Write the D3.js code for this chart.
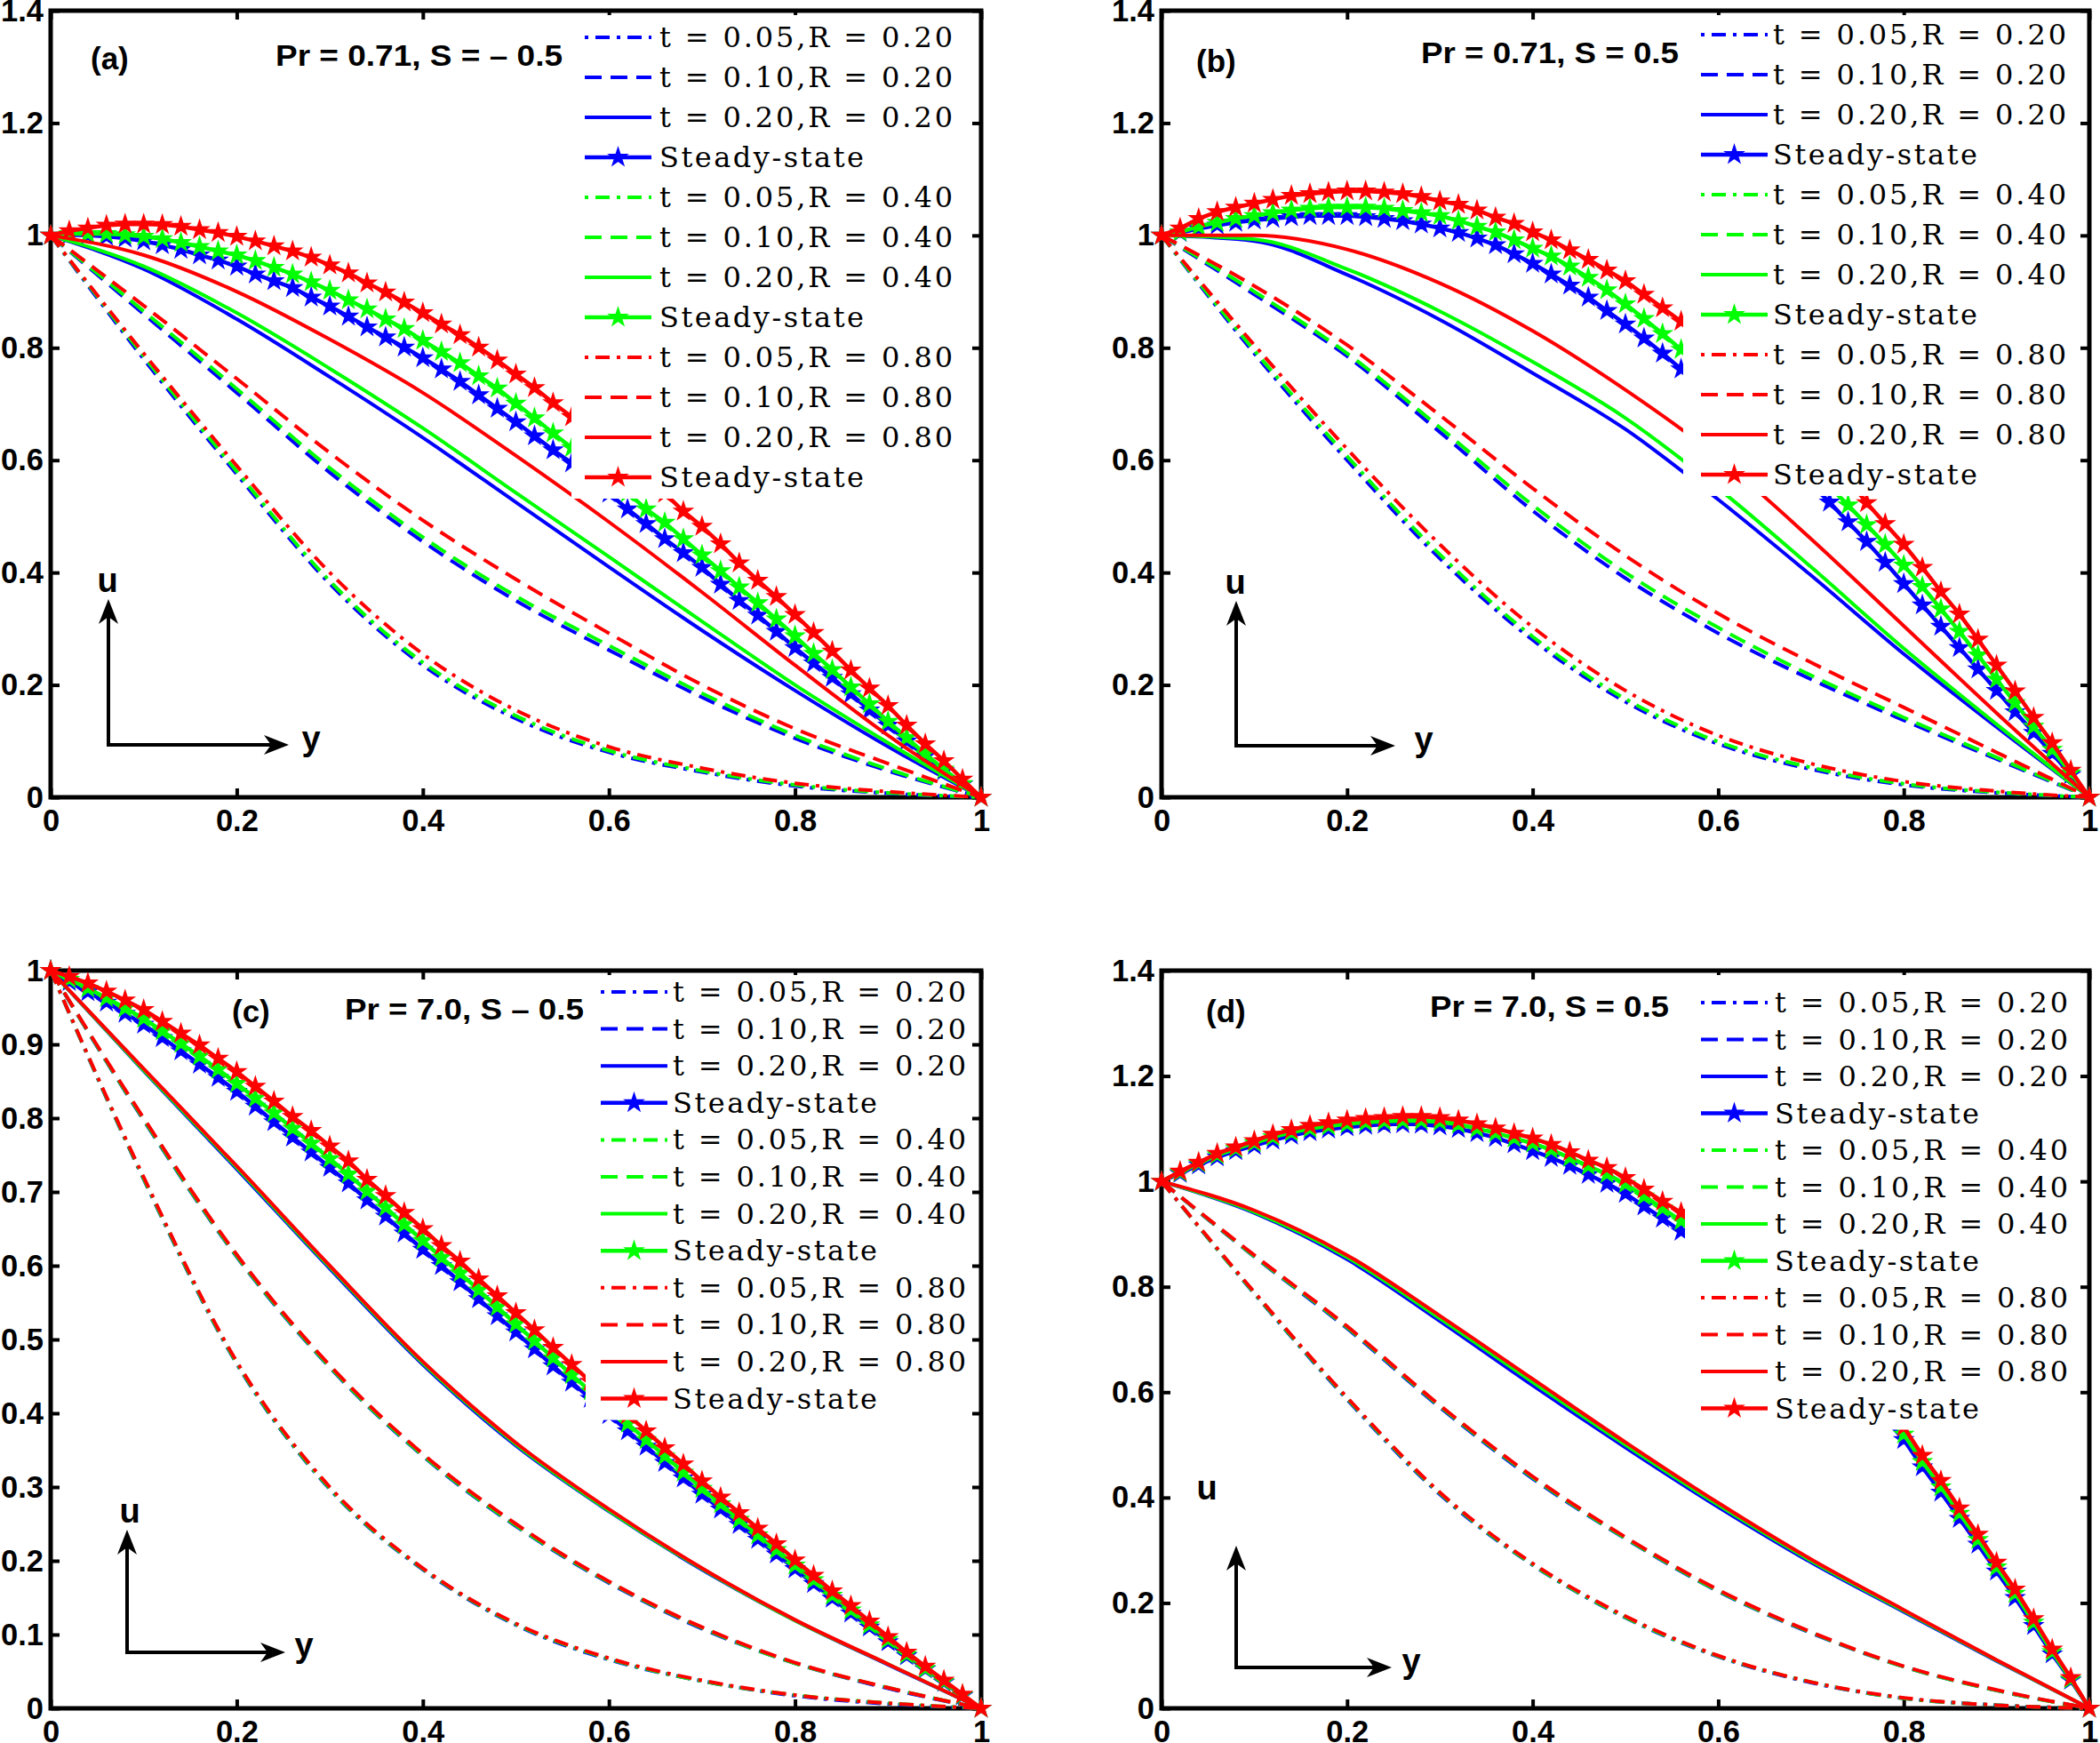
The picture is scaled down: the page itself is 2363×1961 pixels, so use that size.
<!DOCTYPE html>
<html><head><meta charset="utf-8">
<script src="https://cdn.jsdelivr.net/npm/d3@7/dist/d3.min.js"></script>
<style>html,body{margin:0;padding:0;background:#fff;} svg{display:block;}</style>
</head><body>
<svg id="chart" width="2363" height="1961" xmlns="http://www.w3.org/2000/svg"></svg>
<script>
// ---------------- data ----------------
const xGrid = [0, 0.1, 0.2, 0.3, 0.4, 0.5, 0.6, 0.7, 0.8, 0.9, 1];
const xSteady = [0, 0.02, 0.04, 0.06, 0.08, 0.1, 0.12, 0.14, 0.16, 0.18, 0.2, 0.22, 0.24, 0.26, 0.28, 0.3, 0.32, 0.34, 0.36, 0.38, 0.4, 0.42, 0.44, 0.46, 0.48, 0.5, 0.52, 0.54, 0.56, 0.58, 0.6, 0.62, 0.64, 0.66, 0.68, 0.7, 0.72, 0.74, 0.76, 0.78, 0.8, 0.82, 0.84, 0.86, 0.88, 0.9, 0.92, 0.94, 0.96, 0.98, 1];
const xTicks = [0, 0.2, 0.4, 0.6, 0.8, 1];
const yTicks14 = [0, 0.2, 0.4, 0.6, 0.8, 1, 1.2, 1.4];
const yTicks10 = [0, 0.1, 0.2, 0.3, 0.4, 0.5, 0.6, 0.7, 0.8, 0.9, 1];
const legendLabels = ["t = 0.05,R = 0.20", "t = 0.10,R = 0.20", "t = 0.20,R = 0.20", "Steady-state",
  "t = 0.05,R = 0.40", "t = 0.10,R = 0.40", "t = 0.20,R = 0.40", "Steady-state",
  "t = 0.05,R = 0.80", "t = 0.10,R = 0.80", "t = 0.20,R = 0.80", "Steady-state"];
const seriesColors = ["#0000ff", "#0000ff", "#0000ff", "#0000ff", "#00ff00", "#00ff00", "#00ff00", "#00ff00", "#ff0000", "#ff0000", "#ff0000", "#ff0000"];
const seriesKinds = ["dashdot", "dashed", "solid", "steady", "dashdot", "dashed", "solid", "steady", "dashdot", "dashed", "solid", "steady"];
const panelLabels = ["(a)", "(b)", "(c)", "(d)"];
const panelParams = ["Pr = 0.71, S = \u2013 0.5", "Pr = 0.71, S = 0.5", "Pr = 7.0, S \u2013 0.5", "Pr = 7.0, S = 0.5"];

// Panel (a): Pr = 0.71, S = -0.5
const a_t005_R020 = [1, 0.78, 0.575, 0.38, 0.235, 0.14, 0.08, 0.045, 0.02, 0.007, 0];
const a_t010_R020 = [1, 0.86, 0.72, 0.578, 0.455, 0.35, 0.262, 0.178, 0.105, 0.047, 0];
const a_t020_R020 = [1, 0.94, 0.851, 0.748, 0.64, 0.525, 0.41, 0.297, 0.19, 0.09, 0];
const a_ss_R020 = [1, 1.001, 1.0, 0.998, 0.995, 0.99, 0.983, 0.975, 0.965, 0.956, 0.945, 0.931, 0.919, 0.907, 0.89, 0.874, 0.856, 0.837, 0.819, 0.801, 0.782, 0.762, 0.74, 0.716, 0.692, 0.668, 0.643, 0.618, 0.595, 0.568, 0.541, 0.513, 0.487, 0.46, 0.435, 0.409, 0.379, 0.35, 0.324, 0.295, 0.266, 0.239, 0.213, 0.184, 0.155, 0.128, 0.1, 0.073, 0.047, 0.023, 0];
const a_t005_R040 = [1, 0.785, 0.58, 0.385, 0.24, 0.145, 0.083, 0.047, 0.022, 0.008, 0];
const a_t010_R040 = [1, 0.865, 0.727, 0.586, 0.463, 0.358, 0.27, 0.185, 0.11, 0.05, 0];
const a_t020_R040 = [1, 0.945, 0.862, 0.763, 0.657, 0.542, 0.428, 0.313, 0.2, 0.097, 0];
const a_ss_R040 = [1, 1.003, 1.003, 1.003, 1.001, 0.998, 0.994, 0.987, 0.98, 0.972, 0.965, 0.955, 0.943, 0.931, 0.917, 0.902, 0.885, 0.869, 0.851, 0.834, 0.813, 0.793, 0.773, 0.75, 0.728, 0.701, 0.675, 0.648, 0.622, 0.597, 0.57, 0.542, 0.513, 0.489, 0.46, 0.431, 0.403, 0.374, 0.346, 0.317, 0.287, 0.256, 0.227, 0.196, 0.166, 0.135, 0.106, 0.077, 0.05, 0.024, 0];
const a_t005_R080 = [1, 0.79, 0.59, 0.4, 0.255, 0.155, 0.09, 0.052, 0.025, 0.01, 0];
const a_t010_R080 = [1, 0.875, 0.745, 0.613, 0.493, 0.388, 0.292, 0.2, 0.122, 0.06, 0];
const a_t020_R080 = [1, 0.965, 0.9, 0.815, 0.72, 0.608, 0.49, 0.365, 0.235, 0.11, 0];
const a_ss_R080 = [1, 1.008, 1.013, 1.018, 1.02, 1.02, 1.019, 1.016, 1.01, 1.005, 0.998, 0.99, 0.981, 0.972, 0.961, 0.947, 0.933, 0.915, 0.899, 0.881, 0.862, 0.842, 0.823, 0.801, 0.778, 0.753, 0.729, 0.702, 0.677, 0.652, 0.626, 0.599, 0.571, 0.541, 0.509, 0.482, 0.451, 0.417, 0.386, 0.357, 0.325, 0.293, 0.26, 0.226, 0.194, 0.163, 0.128, 0.095, 0.065, 0.032, 0];

// Panel (b): Pr = 0.71, S = 0.5
const b_t005_R020 = [1, 0.79, 0.6, 0.425, 0.28, 0.17, 0.095, 0.05, 0.022, 0.008, 0];
const b_t010_R020 = [1, 0.895, 0.785, 0.65, 0.51, 0.39, 0.292, 0.21, 0.137, 0.068, 0];
const b_t020_R020 = [1, 0.99, 0.93, 0.85, 0.755, 0.655, 0.53, 0.395, 0.255, 0.125, 0];
const b_ss_R020 = [1, 1.005, 1.012, 1.018, 1.023, 1.027, 1.03, 1.033, 1.035, 1.035, 1.035, 1.033, 1.03, 1.026, 1.02, 1.013, 1.005, 0.995, 0.983, 0.967, 0.95, 0.931, 0.911, 0.89, 0.866, 0.842, 0.817, 0.79, 0.762, 0.735, 0.708, 0.68, 0.652, 0.622, 0.59, 0.558, 0.525, 0.49, 0.455, 0.418, 0.38, 0.342, 0.304, 0.266, 0.228, 0.19, 0.152, 0.115, 0.078, 0.04, 0];
const b_t005_R040 = [1, 0.795, 0.607, 0.432, 0.286, 0.175, 0.099, 0.053, 0.024, 0.009, 0];
const b_t010_R040 = [1, 0.9, 0.79, 0.658, 0.52, 0.4, 0.302, 0.217, 0.142, 0.071, 0];
const b_t020_R040 = [1, 0.993, 0.94, 0.865, 0.775, 0.675, 0.55, 0.41, 0.265, 0.13, 0];
const b_ss_R040 = [1, 1.006, 1.016, 1.023, 1.03, 1.035, 1.04, 1.045, 1.048, 1.05, 1.05, 1.05, 1.048, 1.044, 1.04, 1.035, 1.026, 1.016, 1.006, 0.992, 0.977, 0.963, 0.945, 0.925, 0.903, 0.878, 0.852, 0.825, 0.797, 0.768, 0.74, 0.711, 0.681, 0.65, 0.618, 0.586, 0.553, 0.52, 0.485, 0.45, 0.413, 0.375, 0.335, 0.295, 0.253, 0.21, 0.168, 0.126, 0.085, 0.043, 0];
const b_t005_R080 = [1, 0.805, 0.62, 0.45, 0.303, 0.19, 0.11, 0.06, 0.028, 0.011, 0];
const b_t010_R080 = [1, 0.91, 0.805, 0.68, 0.55, 0.43, 0.327, 0.24, 0.16, 0.08, 0];
const b_t020_R080 = [1, 1.0, 0.975, 0.915, 0.83, 0.725, 0.605, 0.46, 0.305, 0.15, 0];
const b_ss_R080 = [1, 1.013, 1.03, 1.042, 1.05, 1.057, 1.064, 1.071, 1.074, 1.077, 1.079, 1.079, 1.077, 1.074, 1.069, 1.061, 1.055, 1.045, 1.032, 1.021, 1.006, 0.992, 0.974, 0.957, 0.938, 0.919, 0.895, 0.871, 0.847, 0.822, 0.796, 0.768, 0.739, 0.709, 0.677, 0.643, 0.606, 0.566, 0.524, 0.487, 0.45, 0.409, 0.366, 0.326, 0.281, 0.235, 0.189, 0.142, 0.097, 0.048, 0];

// Panel (c): Pr = 7.0, S = -0.5
const c_t005_R020 = [1, 0.717, 0.467, 0.297, 0.188, 0.113, 0.066, 0.037, 0.017, 0.006, 0];
const c_t010_R020 = [1, 0.797, 0.612, 0.462, 0.342, 0.247, 0.17, 0.108, 0.061, 0.027, 0];
const c_t020_R020 = [1, 0.864, 0.731, 0.596, 0.466, 0.356, 0.267, 0.188, 0.119, 0.059, 0];
const c_ss_R020 = [1, 0.985, 0.971, 0.957, 0.942, 0.927, 0.909, 0.891, 0.873, 0.855, 0.836, 0.816, 0.795, 0.774, 0.754, 0.733, 0.712, 0.689, 0.667, 0.644, 0.622, 0.6, 0.578, 0.555, 0.532, 0.51, 0.487, 0.464, 0.442, 0.42, 0.398, 0.376, 0.355, 0.333, 0.312, 0.29, 0.27, 0.249, 0.229, 0.209, 0.189, 0.169, 0.149, 0.129, 0.11, 0.09, 0.071, 0.053, 0.035, 0.017, 0];
const c_t005_R040 = [1, 0.718, 0.468, 0.298, 0.189, 0.114, 0.067, 0.037, 0.018, 0.007, 0];
const c_t010_R040 = [1, 0.798, 0.613, 0.463, 0.343, 0.248, 0.171, 0.109, 0.061, 0.028, 0];
const c_t020_R040 = [1, 0.865, 0.733, 0.598, 0.468, 0.358, 0.268, 0.189, 0.119, 0.06, 0];
const c_ss_R040 = [1, 0.988, 0.976, 0.963, 0.949, 0.935, 0.918, 0.901, 0.884, 0.866, 0.847, 0.827, 0.807, 0.786, 0.766, 0.745, 0.724, 0.701, 0.679, 0.656, 0.634, 0.611, 0.59, 0.567, 0.544, 0.521, 0.498, 0.475, 0.452, 0.43, 0.408, 0.386, 0.364, 0.342, 0.32, 0.298, 0.277, 0.256, 0.235, 0.215, 0.194, 0.174, 0.153, 0.133, 0.113, 0.093, 0.073, 0.054, 0.036, 0.018, 0];
const c_t005_R080 = [1, 0.72, 0.47, 0.3, 0.19, 0.115, 0.068, 0.038, 0.018, 0.007, 0];
const c_t010_R080 = [1, 0.8, 0.615, 0.465, 0.345, 0.25, 0.172, 0.11, 0.062, 0.028, 0];
const c_t020_R080 = [1, 0.867, 0.735, 0.6, 0.47, 0.36, 0.27, 0.19, 0.12, 0.06, 0];
const c_ss_R080 = [1, 0.992, 0.983, 0.972, 0.96, 0.947, 0.931, 0.915, 0.899, 0.881, 0.863, 0.843, 0.823, 0.802, 0.783, 0.762, 0.742, 0.717, 0.695, 0.672, 0.65, 0.627, 0.606, 0.582, 0.559, 0.536, 0.513, 0.489, 0.466, 0.443, 0.421, 0.398, 0.376, 0.353, 0.331, 0.308, 0.286, 0.265, 0.244, 0.223, 0.201, 0.18, 0.159, 0.139, 0.118, 0.097, 0.076, 0.057, 0.038, 0.019, 0];

// Panel (d): Pr = 7.0, S = 0.5
const d_t005_R020 = [1, 0.787, 0.586, 0.406, 0.272, 0.172, 0.098, 0.049, 0.019, 0.006, 0];
const d_t010_R020 = [1, 0.857, 0.721, 0.571, 0.436, 0.322, 0.222, 0.143, 0.079, 0.034, 0];
const d_t020_R020 = [1, 0.94, 0.852, 0.735, 0.613, 0.495, 0.382, 0.277, 0.183, 0.09, 0];
const d_ss_R020 = [1, 1.015, 1.031, 1.046, 1.058, 1.068, 1.078, 1.087, 1.094, 1.099, 1.103, 1.106, 1.108, 1.109, 1.108, 1.105, 1.1, 1.092, 1.083, 1.071, 1.058, 1.045, 1.03, 1.013, 0.996, 0.977, 0.953, 0.93, 0.905, 0.883, 0.859, 0.833, 0.806, 0.776, 0.743, 0.708, 0.67, 0.63, 0.59, 0.55, 0.51, 0.458, 0.41, 0.36, 0.311, 0.26, 0.21, 0.157, 0.103, 0.053, 0];
const d_t005_R040 = [1, 0.788, 0.588, 0.408, 0.273, 0.173, 0.099, 0.05, 0.019, 0.006, 0];
const d_t010_R040 = [1, 0.858, 0.723, 0.573, 0.438, 0.323, 0.223, 0.144, 0.079, 0.034, 0];
const d_t020_R040 = [1, 0.942, 0.856, 0.74, 0.619, 0.5, 0.386, 0.28, 0.185, 0.091, 0];
const d_ss_R040 = [1, 1.017, 1.034, 1.05, 1.062, 1.073, 1.084, 1.093, 1.1, 1.105, 1.109, 1.112, 1.114, 1.115, 1.115, 1.113, 1.108, 1.1, 1.092, 1.082, 1.072, 1.06, 1.045, 1.029, 1.014, 0.995, 0.972, 0.949, 0.925, 0.903, 0.879, 0.853, 0.825, 0.794, 0.76, 0.724, 0.685, 0.644, 0.602, 0.56, 0.52, 0.468, 0.42, 0.37, 0.32, 0.268, 0.218, 0.163, 0.107, 0.055, 0];
const d_t005_R080 = [1, 0.79, 0.59, 0.41, 0.275, 0.175, 0.1, 0.05, 0.02, 0.006, 0];
const d_t010_R080 = [1, 0.86, 0.725, 0.575, 0.44, 0.325, 0.225, 0.145, 0.08, 0.035, 0];
const d_t020_R080 = [1, 0.945, 0.86, 0.745, 0.625, 0.505, 0.39, 0.283, 0.187, 0.092, 0];
const d_ss_R080 = [1, 1.019, 1.036, 1.053, 1.065, 1.077, 1.089, 1.098, 1.106, 1.111, 1.116, 1.119, 1.121, 1.123, 1.123, 1.121, 1.116, 1.109, 1.101, 1.091, 1.082, 1.07, 1.056, 1.04, 1.026, 1.007, 0.985, 0.962, 0.941, 0.92, 0.897, 0.872, 0.845, 0.815, 0.782, 0.747, 0.708, 0.666, 0.622, 0.578, 0.534, 0.48, 0.432, 0.38, 0.33, 0.277, 0.226, 0.17, 0.112, 0.058, 0];

// ---------------- layout (positions only) ----------------
const layouts = [
  { series: [a_t005_R020, a_t010_R020, a_t020_R020, a_ss_R020, a_t005_R040, a_t010_R040, a_t020_R040, a_ss_R040, a_t005_R080, a_t010_R080, a_t020_R080, a_ss_R080],
    l: 57, r: 1104, t: 12, b: 897, yMax: 1.4, yTicks: yTicks14,
    legLine: 658, legText: 742, legY: 42, legDy: 45, boxL: 643, boxR: 1086,
    labX: 102, labY: 78, parX: 310, parW: 323, parY: 74,
    arX: 122, arY: 838, arTop: 674, arRight: 325, uX: 121, uY: 666, yX: 350, yY: 844 },
  { series: [b_t005_R020, b_t010_R020, b_t020_R020, b_ss_R020, b_t005_R040, b_t010_R040, b_t020_R040, b_ss_R040, b_t005_R080, b_t010_R080, b_t020_R080, b_ss_R080],
    l: 1307, r: 2351, t: 12, b: 897, yMax: 1.4, yTicks: yTicks14,
    legLine: 1914, legText: 1995, legY: 39, legDy: 45, boxL: 1894, boxR: 2337,
    labX: 1346, labY: 81, parX: 1599, parW: 290, parY: 71,
    arX: 1391, arY: 839, arTop: 676, arRight: 1570, uX: 1390, uY: 668, yX: 1602, yY: 845 },
  { series: [c_t005_R020, c_t010_R020, c_t020_R020, c_ss_R020, c_t005_R040, c_t010_R040, c_t020_R040, c_ss_R040, c_t005_R080, c_t010_R080, c_t020_R080, c_ss_R080],
    l: 57, r: 1104, t: 1092, b: 1922, yMax: 1.0, yTicks: yTicks10,
    legLine: 676, legText: 757, legY: 1116, legDy: 41.6, boxL: 659, boxR: 1092,
    labX: 261, labY: 1150, parX: 388, parW: 269, parY: 1147,
    arX: 143, arY: 1859, arTop: 1721, arRight: 321, uX: 146, uY: 1713, yX: 342, yY: 1864 },
  { series: [d_t005_R020, d_t010_R020, d_t020_R020, d_ss_R020, d_t005_R040, d_t010_R040, d_t020_R040, d_ss_R040, d_t005_R080, d_t010_R080, d_t020_R080, d_ss_R080],
    l: 1307, r: 2351, t: 1092, b: 1922, yMax: 1.4, yTicks: yTicks14,
    legLine: 1914, legText: 1997, legY: 1128, legDy: 41.5, boxL: 1896, boxR: 2337,
    labX: 1357, labY: 1150, parX: 1609, parW: 269, parY: 1144,
    arX: 1391, arY: 1876, arTop: 1739, arRight: 1566, uX: 1358, uY: 1687, yX: 1588, yY: 1882 }
];

// ---------------- drawing ----------------
const SANS = '"Liberation Sans", Arial, Helvetica, sans-serif';
const SERIF = '"DejaVu Serif", "Liberation Serif", serif';
const svg = d3.select('#chart');
svg.append('rect').attr('width', 2363).attr('height', 1961).attr('fill', '#fff');

function dashOf(kind) {
  if (kind === 'dashed') return '19,10';
  if (kind === 'dashdot') return '16,8,4,8';
  return null;
}
const starPath = d3.symbol().type(d3.symbolStar).size(125)();

function arrowHead(g, tipX, tipY, dx, dy) {
  const L = 28, W = 11, N = 8;
  const px = -dy, py = dx;
  const bx = tipX - dx * L, by = tipY - dy * L;
  const nx = tipX - dx * (L - N), ny = tipY - dy * (L - N);
  g.append('path')
    .attr('d', `M${tipX},${tipY}L${bx + px * W},${by + py * W}L${nx},${ny}L${bx - px * W},${by - py * W}Z`)
    .attr('fill', '#000');
}

layouts.forEach((P, pi) => {
  const g = svg.append('g');
  const x = d3.scaleLinear().domain([0, 1]).range([P.l, P.r]);
  const y = d3.scaleLinear().domain([0, P.yMax]).range([P.b, P.t]);
  const fmt = v => String(v);

  const axes = [
    [d3.axisBottom(x).tickValues(xTicks).tickFormat(fmt).tickPadding(14), `translate(0,${P.b})`],
    [d3.axisTop(x).tickValues(xTicks).tickFormat(() => ''), `translate(0,${P.t})`],
    [d3.axisLeft(y).tickValues(P.yTicks).tickFormat(fmt).tickPadding(8), `translate(${P.l},0)`],
    [d3.axisRight(y).tickValues(P.yTicks).tickFormat(() => ''), `translate(${P.r},0)`]
  ];
  axes.forEach(([ax, tr]) => {
    const a = g.append('g').attr('transform', tr).call(ax.tickSize(-10).tickSizeOuter(0));
    a.select('.domain').remove();
    a.selectAll('.tick line').attr('stroke', '#000').attr('stroke-width', 4);
    a.selectAll('.tick text').attr('fill', '#000').attr('font-family', SANS)
      .attr('font-weight', 'bold').attr('font-size', 34.5);
  });
  g.append('rect').attr('x', P.l).attr('y', P.t).attr('width', P.r - P.l).attr('height', P.b - P.t)
    .attr('fill', 'none').attr('stroke', '#000').attr('stroke-width', 5);

  // curves
  P.series.forEach((vals, i) => {
    const kind = seriesKinds[i], col = seriesColors[i];
    const xs = kind === 'steady' ? xSteady : xGrid;
    const pts = vals.map((v, j) => [xs[j], v]);
    const ln = d3.line().x(d => x(d[0])).y(d => y(d[1]))
      .curve(kind === 'steady' ? d3.curveLinear : d3.curveMonotoneX);
    g.append('path').attr('d', ln(pts)).attr('fill', 'none').attr('stroke', col)
      .attr('stroke-width', kind === 'steady' ? 4.5 : 4)
      .attr('stroke-dasharray', dashOf(kind)).attr('stroke-linejoin', 'round');
    if (kind === 'steady') {
      g.append('g').selectAll('path').data(pts).join('path')
        .attr('d', starPath)
        .attr('transform', d => `translate(${x(d[0])},${y(d[1])})`)
        .attr('fill', col).attr('stroke', col).attr('stroke-width', 1.5);
    }
  });

  // legend box
  const boxTop = P.t + 5;
  const boxBottom = P.legY + 11 * P.legDy + 24;
  g.append('rect').attr('x', P.boxL).attr('y', boxTop).attr('width', P.boxR - P.boxL)
    .attr('height', boxBottom - boxTop).attr('fill', '#fff');

  legendLabels.forEach((lab, i) => {
    const cy = P.legY + i * P.legDy;
    const kind = seriesKinds[i], col = seriesColors[i];
    g.append('line').attr('x1', P.legLine).attr('x2', P.legLine + 75).attr('y1', cy).attr('y2', cy)
      .attr('stroke', col).attr('stroke-width', kind === 'steady' ? 4.5 : 4)
      .attr('stroke-dasharray', dashOf(kind))
      .attr('stroke-dashoffset', kind === 'dashdot' ? 24 : 0);
    if (kind === 'steady') {
      g.append('path').attr('d', starPath).attr('transform', `translate(${P.legLine + 37.5},${cy})`)
        .attr('fill', col).attr('stroke', col).attr('stroke-width', 1.5);
    }
    g.append('text').attr('x', P.legText).attr('y', cy + 11).text(lab)
      .attr('font-family', SERIF).attr('font-size', 32).attr('fill', '#000')
      .attr('textLength', kind === 'steady' ? 230 : 330).attr('lengthAdjust', 'spacing');
  });

  // panel label and parameters
  g.append('text').attr('x', P.labX).attr('y', P.labY).text(panelLabels[pi])
    .attr('font-family', SANS).attr('font-weight', 'bold').attr('font-size', 35).attr('fill', '#000');
  g.append('text').attr('x', P.parX).attr('y', P.parY).text(panelParams[pi])
    .attr('font-family', SANS).attr('font-weight', 'bold').attr('font-size', 34).attr('fill', '#000')
    .attr('textLength', P.parW).attr('lengthAdjust', 'spacingAndGlyphs');

  // u / y direction arrows
  g.append('line').attr('x1', P.arX).attr('y1', P.arY).attr('x2', P.arX).attr('y2', P.arTop + 20)
    .attr('stroke', '#000').attr('stroke-width', 4);
  g.append('line').attr('x1', P.arX - 2).attr('y1', P.arY).attr('x2', P.arRight - 20).attr('y2', P.arY)
    .attr('stroke', '#000').attr('stroke-width', 4);
  arrowHead(g, P.arX, P.arTop, 0, -1);
  arrowHead(g, P.arRight, P.arY, 1, 0);
  g.append('text').attr('x', P.uX).attr('y', P.uY).text('u').attr('text-anchor', 'middle')
    .attr('font-family', SANS).attr('font-weight', 'bold').attr('font-size', 38).attr('fill', '#000');
  g.append('text').attr('x', P.yX).attr('y', P.yY).text('y').attr('text-anchor', 'middle')
    .attr('font-family', SANS).attr('font-weight', 'bold').attr('font-size', 38).attr('fill', '#000');
});
</script>
</body></html>
